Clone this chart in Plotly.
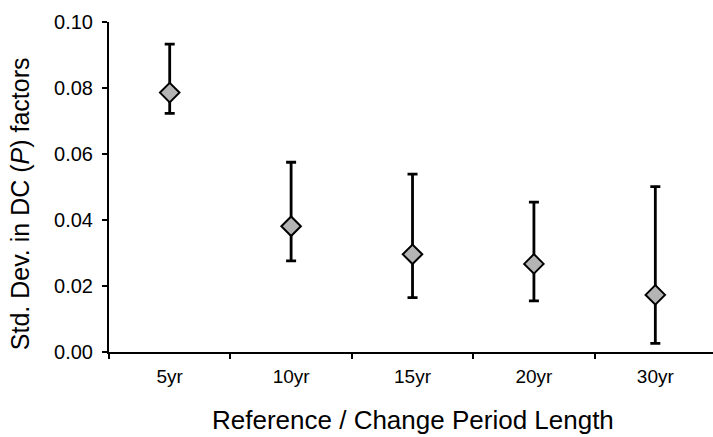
import plotly.graph_objects as go

categories = ["5yr", "10yr", "15yr", "20yr", "30yr"]
values = [0.0786, 0.0381, 0.0296, 0.0267, 0.0173]
upper = [0.0933, 0.0575, 0.0539, 0.0454, 0.0501]
lower = [0.0723, 0.0276, 0.0165, 0.0155, 0.0026]

err_plus = [u - v for u, v in zip(upper, values)]
err_minus = [v - l for v, l in zip(values, lower)]

fig = go.Figure()
fig.add_trace(go.Scatter(
    x=categories, y=values, mode="markers",
    marker=dict(symbol="diamond", size=15, color="#b4b4b4",
                line=dict(color="black", width=2)),
    error_y=dict(type="data", symmetric=False, array=err_plus, arrayminus=err_minus,
                 color="black", thickness=2.8, width=5),
    showlegend=False,
))

font = "Liberation Sans, Arial, sans-serif"
fig.update_layout(
    width=713, height=437,
    margin=dict(l=109, r=0, t=22, b=85),
    paper_bgcolor="white", plot_bgcolor="white",
    font=dict(family=font, color="black"),
    xaxis=dict(
        type="category", range=[-0.5, 4.475],
        showline=True, linecolor="black", linewidth=2,
        ticks="outside", tickson="boundaries", ticklen=5, tickwidth=2, tickcolor="black",
        tickfont=dict(size=19), showgrid=False, zeroline=False,
        ticklabelstandoff=6,
    ),
    yaxis=dict(
        range=[0, 0.10], tickvals=[0, 0.02, 0.04, 0.06, 0.08, 0.10],
        tickformat=".2f",
        showline=True, linecolor="black", linewidth=2,
        ticks="outside", ticklen=5, tickwidth=2, tickcolor="black",
        tickfont=dict(size=20), showgrid=False, zeroline=False,
        ticklabelstandoff=5,
    ),
    annotations=[
        dict(text="Reference / Change Period Length", xref="paper", yref="paper",
             x=0.503, y=-0.206, xanchor="center", yanchor="middle",
             showarrow=False, font=dict(size=26)),
        dict(text="Std. Dev. in DC (<i>P</i>) factors", xref="paper", yref="paper",
             x=(20 - 109) / 604, y=0.448, xanchor="center", yanchor="middle",
             textangle=-90, showarrow=False, font=dict(size=25)),
    ],
)

fig.write_html("out.html", config={"displayModeBar": False},
               post_script="document.body.style.margin='0';")
